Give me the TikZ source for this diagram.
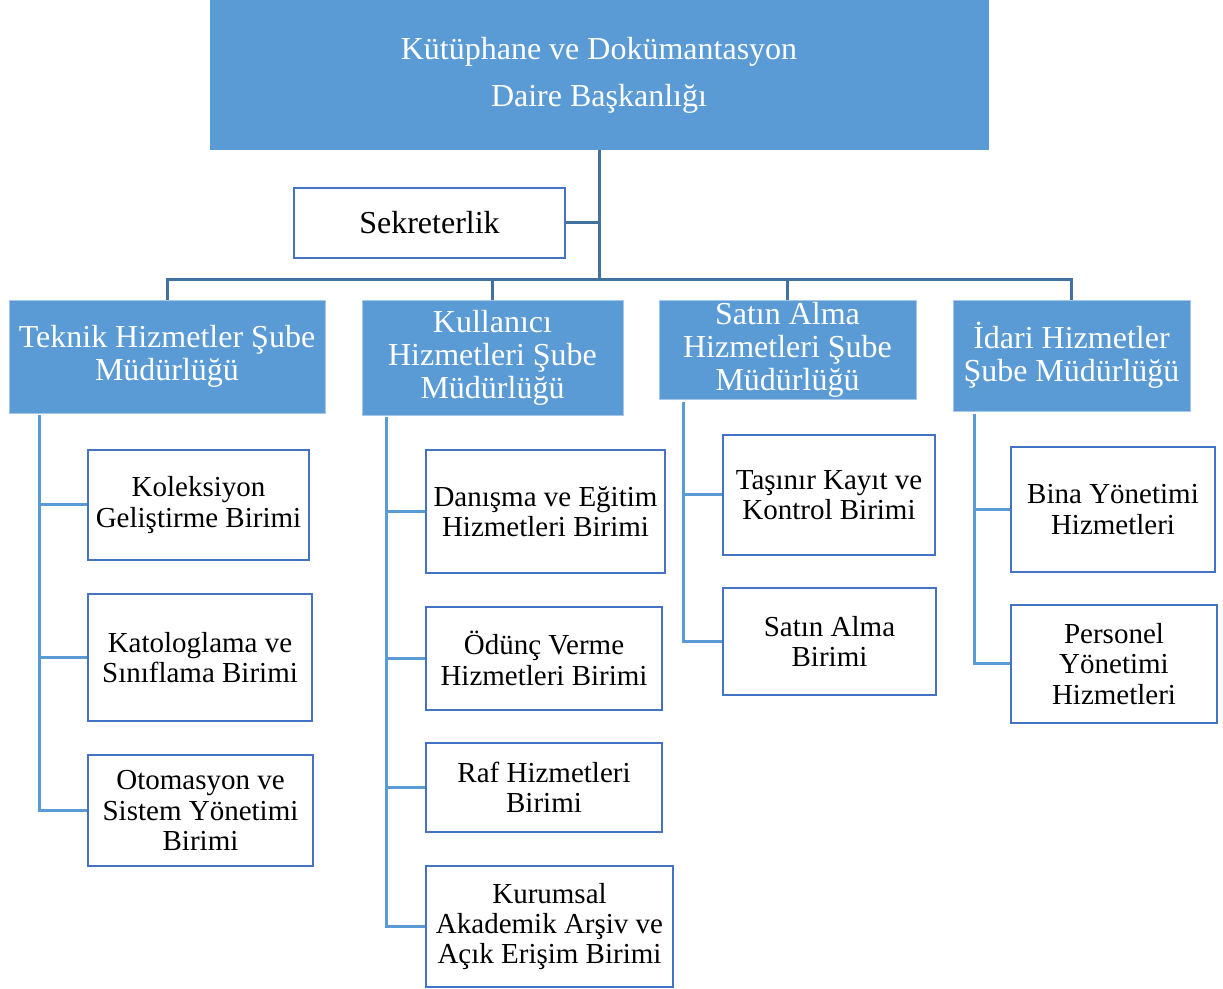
\documentclass[tikz,border=0pt]{standalone}
\usepackage{fontspec}
\setmainfont{Liberation Serif}
\definecolor{boxblue}{HTML}{5B9BD5}
\definecolor{edgeblue}{HTML}{4472C4}
\definecolor{linkblue}{HTML}{41719C}
\begin{document}
\begin{tikzpicture}
    [%%%%%%%%%%%%%%%%%%%%%%%%%%%%%%
        x=0.5pt, y=-0.5pt,
        head/.style={rectangle,fill=boxblue,text=white,align=center,
            font=\fontsize{16}{23.5}\selectfont},
        dept/.style={rectangle,fill=boxblue,draw=boxblue!55!white,thin,text=white,
            align=center,inner sep=1pt,font=\fontsize{16}{16.5}\selectfont},
        unit/.style={rectangle,draw=edgeblue,line width=1.4pt,fill=white,
            align=center,inner sep=1pt,font=\fontsize{14.5}{15.2}\selectfont},
        link/.style={draw=linkblue,line width=1.5pt},
        sublink/.style={draw=boxblue,line width=1.5pt},
    ]%%%%%%%%%%%%%%%%%%%%%%%%%%%%%%
\useasboundingbox (0,0) rectangle (1223,989);

\node[head,minimum width=389.5pt,minimum height=75pt] (head) at (599,75)
    {Kütüphane ve Dokümantasyon\\Daire Başkanlığı};
\node[unit,minimum width=135.5pt,minimum height=35pt,
    font=\fontsize{16}{18}\selectfont] (sek) at (429.5,223) {Sekreterlik};
\coordinate (bar) at (599,280);

\node[dept,minimum width=158pt,minimum height=56.5pt] (teknik) at (167,356.5)
    {Teknik Hizmetler Şube\\Müdürlüğü};
\node[dept,minimum width=130.5pt,minimum height=57.5pt] (kullanici) at (492.5,357.5)
    {Kullanıcı\\Hizmetleri Şube\\Müdürlüğü};
\node[dept,minimum width=128.5pt,minimum height=49.5pt] (satin) at (787.5,349.5)
    {Satın Alma\\Hizmetleri Şube\\Müdürlüğü};
\node[dept,minimum width=118.5pt,minimum height=55.5pt] (idari) at (1071.5,355.5)
    {İdari Hizmetler\\Şube Müdürlüğü};

\node[unit,minimum width=110.5pt,minimum height=55pt] (kol) at (198.5,505)
    {Koleksiyon\\Geliştirme Birimi};
\node[unit,minimum width=112pt,minimum height=63.5pt] (kat) at (200,657.5)
    {Katologlama ve\\Sınıflama Birimi};
\node[unit,minimum width=112.5pt,minimum height=55.5pt] (oto) at (200.5,810.5)
    {Otomasyon ve\\Sistem Yönetimi\\Birimi};

\node[unit,minimum width=119.5pt,minimum height=61.5pt] (dan) at (545.5,511.5)
    {Danışma ve Eğitim\\Hizmetleri Birimi};
\node[unit,minimum width=118pt,minimum height=51.5pt] (odu) at (544,658.5)
    {Ödünç Verme\\Hizmetleri Birimi};
\node[unit,minimum width=118pt,minimum height=44.5pt] (raf) at (544,787.5)
    {Raf Hizmetleri\\Birimi};
\node[unit,minimum width=123.5pt,minimum height=60.5pt] (kur) at (549.5,926.5)
    {Kurumsal\\Akademik Arşiv ve\\Açık Erişim Birimi};

\node[unit,minimum width=106pt,minimum height=60pt] (tas) at (829,495)
    {Taşınır Kayıt ve\\Kontrol Birimi};
\node[unit,minimum width=106.5pt,minimum height=53.5pt] (sab) at (829.5,641.5)
    {Satın Alma\\Birimi};

\node[unit,minimum width=102pt,minimum height=62.5pt] (bina) at (1113,509.5)
    {Bina Yönetimi\\Hizmetleri};
\node[unit,minimum width=103pt,minimum height=59pt] (pers) at (1114,664)
    {Personel\\Yönetimi\\Hizmetleri};

% upper tree
\draw[link] (head) -- (bar);
\draw[link] (sek) -- (sek -| bar);
\foreach \d in {teknik,kullanici,satin,idari}
    \draw[link] (bar) -| (\d);

% units under each department
\foreach \u in {kol,kat,oto}
    \draw[sublink] (teknik.south west) ++(31,2) |- (\u);
\foreach \u in {dan,odu,raf,kur}
    \draw[sublink] (kullanici.south west) ++(25,2) |- (\u);
\foreach \u in {tas,sab}
    \draw[sublink] (satin.south west) ++(25,3) |- (\u);
\foreach \u in {bina,pers}
    \draw[sublink] (idari.south west) ++(22,3) |- (\u);
\end{tikzpicture}
\end{document}
